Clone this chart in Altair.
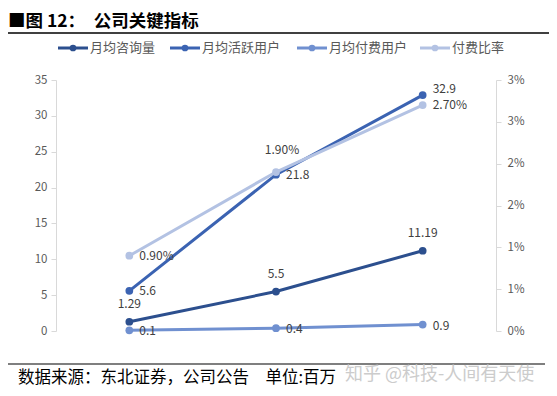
import altair as alt
import pandas as pd

# ---- data ----
years = ["2015年", "2016年", "2017年"]
consult = [1.29, 5.5, 11.19]        # 月均咨询量
active = [5.6, 21.8, 32.9]          # 月均活跃用户
paying = [0.1, 0.4, 0.9]            # 月均付费用户
pay_ratio = [0.009, 0.019, 0.027]   # 付费比率 (right axis)
series_names = ["月均咨询量", "月均活跃用户", "月均付费用户", "付费比率"]
colors = ["#2C4F8E", "#3B63B2", "#7090D0", "#B3C2E3"]
left_ticks = [0, 5, 10, 15, 20, 25, 30, 35]
right_ticks = [0, 0.005, 0.01, 0.015, 0.02, 0.025, 0.03]

title_text = "■图 12：\u2002公司关键指标"
source_text = "数据来源：东北证券，公司公告\u3000单位:百万"
watermark_text = "知乎 @科技-人间有天使"

rows = []
for name, vals in zip(series_names[:3], [consult, active, paying]):
    for y, v in zip(years, vals):
        rows.append({"year": y, "series": name, "value": v, "label": f"{v:g}"})
left_df = pd.DataFrame(rows)
right_df = pd.DataFrame({
    "year": years,
    "series": [series_names[3]] * 3,
    "value": pay_ratio,
    "label": [f"{v * 100:.2f}%" for v in pay_ratio],
})

FONT = "Noto Sans CJK SC"
GRAY = "#595959"
AXIS_GRAY = "#D9D9D9"

pal = alt.Scale(domain=series_names, range=colors)
color_enc = alt.Color("series:N", scale=pal, legend=None)

x_enc = alt.X("year:N", sort=years, scale=alt.Scale(type="point", padding=0.5),
              axis=alt.Axis(title=None, labelAngle=0, ticks=False, domainColor=AXIS_GRAY,
                            labelPadding=9, labelFontSize=12, labelColor=GRAY, labelFont=FONT))
x_noaxis = alt.X("year:N", sort=years, scale=alt.Scale(type="point", padding=0.5), axis=None)

y_left = alt.Y("value:Q", scale=alt.Scale(domain=[0, 35], nice=False),
               axis=alt.Axis(values=left_ticks, title=None, grid=False, domainColor=AXIS_GRAY,
                             tickColor=AXIS_GRAY, tickSize=5, labelPadding=4,
                             labelFontSize=11.5, labelColor=GRAY, labelFont=FONT))
y_right = alt.Y("value:Q", scale=alt.Scale(domain=[0, 0.03], nice=False),
                axis=alt.Axis(orient="right", values=right_ticks, format=".0%", title=None,
                              grid=False, domainColor=AXIS_GRAY, tickColor=AXIS_GRAY,
                              tickSize=5, labelPadding=6, labelFontSize=11.5,
                              labelColor=GRAY, labelFont=FONT))

def group(df, x, y, label_layers):
    base = alt.Chart(df)
    line = base.mark_line(strokeWidth=3).encode(x=x, y=y, color=color_enc)
    pts = base.mark_point(filled=True, size=60, opacity=1).encode(x=x, y=y, color=color_enc)
    texts = [base.transform_filter(flt).mark_text(font=FONT, fontSize=12, color="#404040", **kw)
             .encode(x=x, y=y, text="label:N") for flt, kw in label_layers]
    return alt.layer(line, pts, *texts)

is_2016 = alt.datum.year == years[1]
is_2017 = alt.datum.year == years[2]
left_group = group(left_df, x_enc, y_left, [
    (alt.datum.series == series_names[0], dict(dy=-18, align="center")),
    ((alt.datum.series == series_names[1]) & ~is_2017, dict(dx=10, align="left")),
    ((alt.datum.series == series_names[1]) & is_2017, dict(dx=10, dy=-6, align="left")),
    (alt.datum.series == series_names[2], dict(dx=10, dy=1, align="left")),
])
right_group = group(right_df, x_noaxis, y_right, [
    (~is_2016, dict(dx=10, dy=0, align="left")),
    (is_2016, dict(dx=6, dy=-22, align="center")),
])

one = pd.DataFrame({"k": [0]})

# legend (drawn as marks above the plot)
legend_layers = []
for i, (name, col) in enumerate(zip(series_names, colors)):
    lx = [2, 114, 241, 364][i]
    legend_layers += [
        alt.Chart(one).mark_rule(color=col, strokeWidth=3)
        .encode(x=alt.value(lx), x2=alt.value(lx + 30), y=alt.value(-32)),
        alt.Chart(one).mark_point(filled=True, color=col, size=45, opacity=1)
        .encode(x=alt.value(lx + 15), y=alt.value(-32)),
        alt.Chart(one).mark_text(text=name, font=FONT, fontSize=13, color=GRAY,
                                 align="left", baseline="middle")
        .encode(x=alt.value(lx + 32), y=alt.value(-32)),
    ]

deco = [
    alt.Chart(one).mark_text(text=title_text, font=FONT, fontSize=17.5, fontWeight="bold",
                             color="#000000", align="left", baseline="middle")
    .encode(x=alt.value(-48), y=alt.value(-58)),
    alt.Chart(one).mark_rule(color="#000000", strokeWidth=1.5)
    .encode(x=alt.value(-48), x2=alt.value(493), y=alt.value(-47)),
    alt.Chart(one).mark_rule(color="#000000", strokeWidth=1.2)
    .encode(x=alt.value(-48), x2=alt.value(489), y=alt.value(284)),
    alt.Chart(one).mark_text(text=source_text, font=FONT, fontSize=16.5, color="#000000",
                             align="left", baseline="middle")
    .encode(x=alt.value(-38), y=alt.value(298)),
    alt.Chart(one).mark_text(text=watermark_text, font=FONT, fontSize=18, color="#CCCCCC",
                             align="left", baseline="middle")
    .encode(x=alt.value(289), y=alt.value(295)),
]

chart = alt.layer(left_group, right_group, *legend_layers, *deco).resolve_scale(
    y="independent"
).properties(
    width=440, height=251,
    autosize=alt.AutoSizeParams(type="none"),
    padding={"left": 48, "top": 72, "right": 53, "bottom": 57},
    background="#FFFFFF",
).configure_view(stroke=None)

chart.save("out.html", embed_options={"renderer": "svg", "actions": False})
